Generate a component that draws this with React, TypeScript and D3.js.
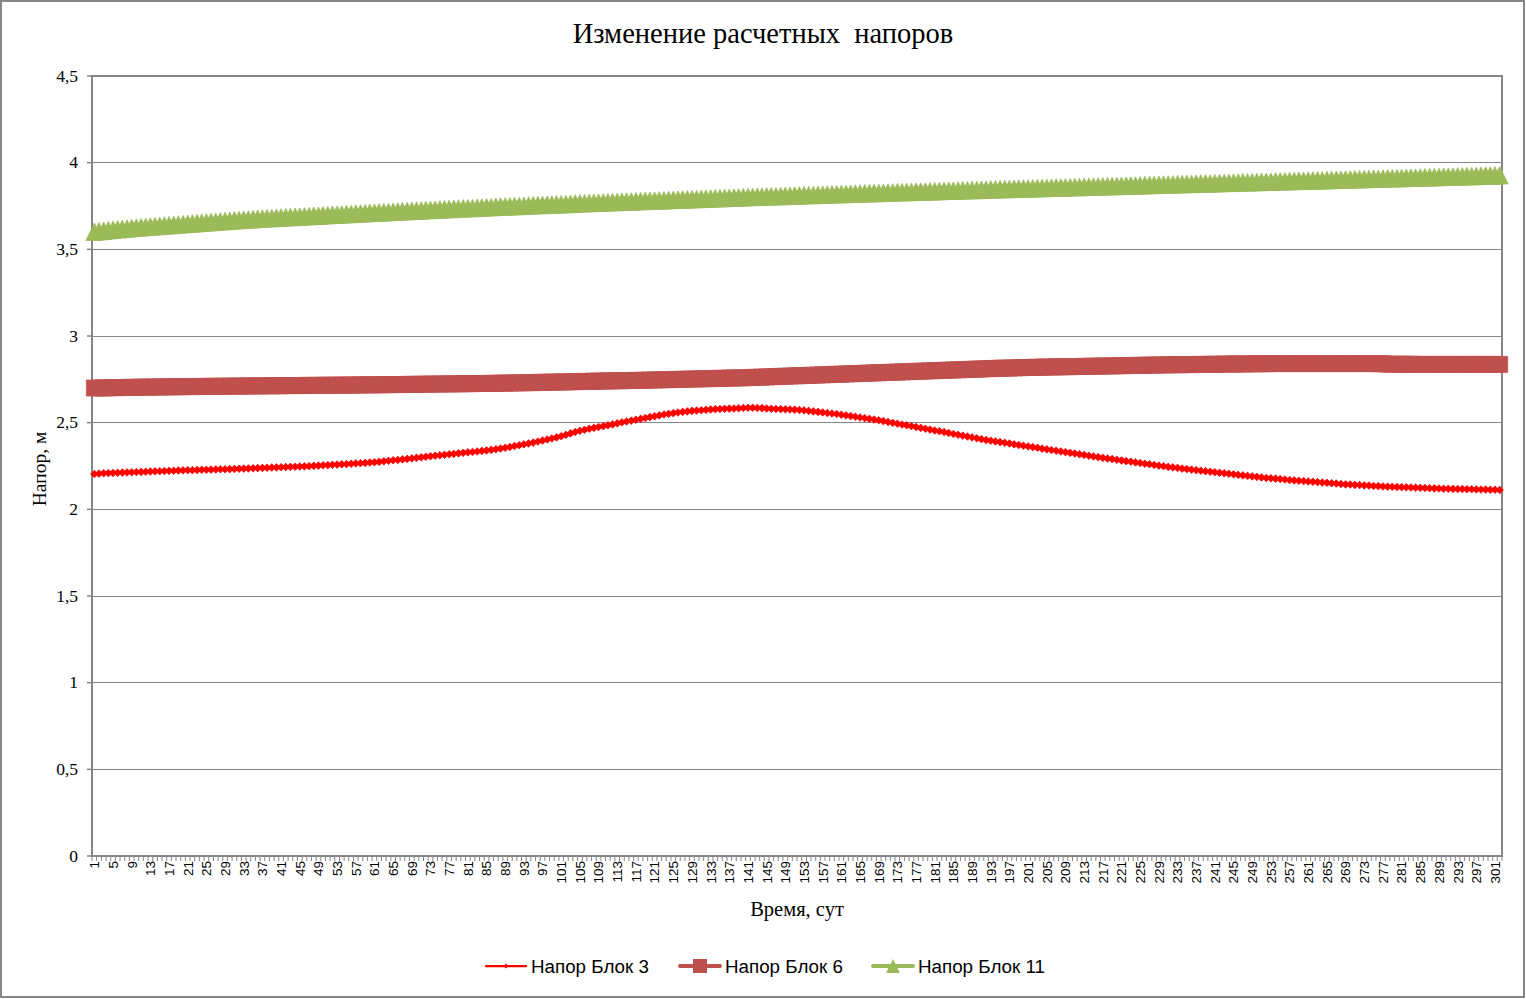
import { useRef, useEffect } from 'react'
import * as d3 from 'd3'

// day numbers on the category axis
const days = d3.range(1, 303)

// Напор Блок 3, м
const block3 = [
  2.204, 2.206, 2.208, 2.209, 2.21, 2.211, 2.212, 2.213, 2.214, 2.215,
  2.216, 2.217, 2.218, 2.219, 2.22, 2.221, 2.222, 2.223, 2.224, 2.225,
  2.226, 2.226, 2.227, 2.228, 2.228, 2.229, 2.23, 2.231, 2.231, 2.232,
  2.233, 2.234, 2.235, 2.236, 2.237, 2.238, 2.239, 2.24, 2.241, 2.242,
  2.243, 2.244, 2.245, 2.246, 2.247, 2.248, 2.249, 2.251, 2.252, 2.254,
  2.255, 2.257, 2.258, 2.26, 2.261, 2.263, 2.265, 2.266, 2.268, 2.27,
  2.272, 2.274, 2.277, 2.28, 2.283, 2.285, 2.288, 2.291, 2.294, 2.297,
  2.3, 2.303, 2.306, 2.309, 2.312, 2.315, 2.318, 2.32, 2.323, 2.326,
  2.329, 2.331, 2.334, 2.337, 2.34, 2.343, 2.347, 2.351, 2.355, 2.36,
  2.365, 2.37, 2.375, 2.38, 2.385, 2.391, 2.397, 2.403, 2.409, 2.415,
  2.422, 2.43, 2.438, 2.446, 2.453, 2.459, 2.465, 2.47, 2.475, 2.48,
  2.485, 2.49, 2.496, 2.502, 2.507, 2.512, 2.517, 2.522, 2.527, 2.532,
  2.537, 2.542, 2.547, 2.551, 2.555, 2.559, 2.562, 2.565, 2.568, 2.57,
  2.572, 2.574, 2.576, 2.578, 2.579, 2.58, 2.581, 2.582, 2.583, 2.585,
  2.586, 2.586, 2.585, 2.584, 2.582, 2.58, 2.579, 2.578, 2.577, 2.576,
  2.575, 2.573, 2.571, 2.568, 2.565, 2.562, 2.559, 2.556, 2.553, 2.55,
  2.546, 2.542, 2.538, 2.534, 2.53, 2.526, 2.522, 2.518, 2.514, 2.509,
  2.504, 2.499, 2.494, 2.489, 2.485, 2.48, 2.475, 2.47, 2.465, 2.46,
  2.455, 2.451, 2.446, 2.44, 2.435, 2.43, 2.425, 2.42, 2.415, 2.41,
  2.405, 2.4, 2.396, 2.392, 2.388, 2.384, 2.38, 2.375, 2.371, 2.367,
  2.363, 2.359, 2.355, 2.35, 2.346, 2.342, 2.338, 2.334, 2.33, 2.326,
  2.322, 2.318, 2.314, 2.309, 2.305, 2.301, 2.297, 2.293, 2.29, 2.286,
  2.282, 2.278, 2.275, 2.271, 2.267, 2.263, 2.26, 2.256, 2.252, 2.249,
  2.245, 2.242, 2.239, 2.235, 2.232, 2.229, 2.226, 2.223, 2.22, 2.217,
  2.214, 2.211, 2.208, 2.205, 2.202, 2.199, 2.196, 2.193, 2.19, 2.187,
  2.184, 2.181, 2.179, 2.177, 2.175, 2.172, 2.169, 2.167, 2.165, 2.163,
  2.161, 2.159, 2.157, 2.155, 2.153, 2.151, 2.149, 2.146, 2.144, 2.143,
  2.141, 2.14, 2.138, 2.137, 2.135, 2.134, 2.132, 2.131, 2.13, 2.129,
  2.128, 2.127, 2.126, 2.125, 2.124, 2.123, 2.122, 2.121, 2.12, 2.119,
  2.119, 2.118, 2.117, 2.117, 2.116, 2.116, 2.115, 2.114, 2.114, 2.113,
  2.113, 2.112,
]

// Напор Блок 6, м
const block6 = [
  2.7, 2.7, 2.701, 2.701, 2.702, 2.702, 2.703, 2.703, 2.704, 2.704,
  2.705, 2.705, 2.705, 2.706, 2.706, 2.706, 2.707, 2.707, 2.707, 2.708,
  2.708, 2.708, 2.709, 2.709, 2.709, 2.71, 2.71, 2.71, 2.71, 2.711,
  2.711, 2.711, 2.711, 2.712, 2.712, 2.712, 2.712, 2.713, 2.713, 2.713,
  2.713, 2.714, 2.714, 2.714, 2.714, 2.715, 2.715, 2.715, 2.715, 2.716,
  2.716, 2.716, 2.716, 2.717, 2.717, 2.717, 2.717, 2.718, 2.718, 2.718,
  2.718, 2.719, 2.719, 2.719, 2.72, 2.72, 2.72, 2.721, 2.721, 2.721,
  2.722, 2.722, 2.722, 2.723, 2.723, 2.723, 2.724, 2.724, 2.724, 2.725,
  2.725, 2.725, 2.726, 2.726, 2.726, 2.727, 2.727, 2.728, 2.728, 2.729,
  2.729, 2.73, 2.73, 2.731, 2.731, 2.732, 2.733, 2.733, 2.734, 2.734,
  2.735, 2.735, 2.736, 2.737, 2.737, 2.738, 2.738, 2.739, 2.74, 2.74,
  2.741, 2.741, 2.742, 2.742, 2.743, 2.743, 2.744, 2.744, 2.745, 2.746,
  2.746, 2.747, 2.748, 2.748, 2.749, 2.75, 2.75, 2.751, 2.752, 2.752,
  2.753, 2.754, 2.754, 2.755, 2.756, 2.756, 2.757, 2.758, 2.758, 2.759,
  2.76, 2.761, 2.762, 2.763, 2.764, 2.765, 2.766, 2.767, 2.768, 2.769,
  2.77, 2.771, 2.772, 2.773, 2.774, 2.775, 2.776, 2.777, 2.778, 2.779,
  2.78, 2.781, 2.782, 2.783, 2.784, 2.785, 2.786, 2.787, 2.788, 2.789,
  2.79, 2.791, 2.792, 2.793, 2.794, 2.795, 2.796, 2.797, 2.798, 2.799,
  2.8, 2.801, 2.802, 2.803, 2.804, 2.805, 2.806, 2.807, 2.808, 2.809,
  2.81, 2.811, 2.812, 2.813, 2.814, 2.815, 2.815, 2.816, 2.817, 2.818,
  2.818, 2.819, 2.82, 2.82, 2.821, 2.821, 2.822, 2.822, 2.823, 2.823,
  2.824, 2.824, 2.825, 2.825, 2.826, 2.826, 2.827, 2.827, 2.828, 2.828,
  2.829, 2.829, 2.83, 2.83, 2.831, 2.831, 2.832, 2.832, 2.833, 2.833,
  2.834, 2.834, 2.834, 2.835, 2.835, 2.835, 2.836, 2.836, 2.836, 2.837,
  2.837, 2.837, 2.838, 2.838, 2.838, 2.839, 2.839, 2.839, 2.84, 2.84,
  2.84, 2.84, 2.841, 2.841, 2.841, 2.841, 2.841, 2.841, 2.841, 2.841,
  2.841, 2.841, 2.841, 2.841, 2.841, 2.841, 2.841, 2.841, 2.841, 2.841,
  2.841, 2.841, 2.841, 2.841, 2.841, 2.84, 2.84, 2.838, 2.837, 2.837,
  2.837, 2.837, 2.837, 2.836, 2.836, 2.836, 2.836, 2.836, 2.836, 2.836,
  2.836, 2.836, 2.836, 2.836, 2.836, 2.836, 2.836, 2.836, 2.836, 2.836,
  2.836, 2.836,
]

// Напор Блок 11, м
const block11 = [
  3.6, 3.603, 3.606, 3.609, 3.612, 3.614, 3.617, 3.619, 3.622, 3.624,
  3.626, 3.628, 3.63, 3.632, 3.634, 3.636, 3.638, 3.64, 3.642, 3.644,
  3.646, 3.648, 3.65, 3.652, 3.654, 3.656, 3.658, 3.66, 3.662, 3.664,
  3.666, 3.668, 3.67, 3.671, 3.673, 3.675, 3.676, 3.678, 3.679, 3.681,
  3.682, 3.684, 3.685, 3.686, 3.687, 3.689, 3.69, 3.692, 3.693, 3.695,
  3.696, 3.698, 3.699, 3.7, 3.702, 3.703, 3.705, 3.706, 3.707, 3.709,
  3.71, 3.711, 3.713, 3.714, 3.715, 3.717, 3.718, 3.719, 3.721, 3.722,
  3.723, 3.725, 3.726, 3.727, 3.729, 3.73, 3.731, 3.732, 3.734, 3.735,
  3.736, 3.737, 3.739, 3.74, 3.741, 3.742, 3.744, 3.745, 3.746, 3.747,
  3.748, 3.749, 3.75, 3.752, 3.753, 3.754, 3.755, 3.756, 3.757, 3.758,
  3.759, 3.76, 3.761, 3.763, 3.764, 3.765, 3.766, 3.767, 3.768, 3.769,
  3.77, 3.771, 3.772, 3.773, 3.774, 3.775, 3.776, 3.777, 3.778, 3.779,
  3.78, 3.781, 3.782, 3.783, 3.784, 3.785, 3.786, 3.787, 3.788, 3.789,
  3.79, 3.791, 3.792, 3.793, 3.794, 3.795, 3.796, 3.797, 3.798, 3.799,
  3.8, 3.801, 3.802, 3.803, 3.804, 3.805, 3.805, 3.806, 3.807, 3.808,
  3.809, 3.81, 3.811, 3.812, 3.812, 3.813, 3.814, 3.815, 3.816, 3.817,
  3.818, 3.818, 3.819, 3.82, 3.821, 3.822, 3.823, 3.823, 3.824, 3.825,
  3.826, 3.827, 3.828, 3.828, 3.829, 3.83, 3.831, 3.832, 3.832, 3.833,
  3.834, 3.835, 3.836, 3.837, 3.837, 3.838, 3.839, 3.84, 3.841, 3.841,
  3.842, 3.843, 3.844, 3.845, 3.846, 3.846, 3.847, 3.848, 3.849, 3.849,
  3.85, 3.851, 3.852, 3.852, 3.853, 3.854, 3.855, 3.855, 3.856, 3.857,
  3.858, 3.858, 3.859, 3.86, 3.861, 3.861, 3.862, 3.863, 3.864, 3.864,
  3.865, 3.866, 3.867, 3.867, 3.868, 3.869, 3.87, 3.87, 3.871, 3.872,
  3.873, 3.873, 3.874, 3.875, 3.876, 3.876, 3.877, 3.878, 3.879, 3.879,
  3.88, 3.881, 3.882, 3.882, 3.883, 3.884, 3.885, 3.885, 3.886, 3.887,
  3.888, 3.888, 3.889, 3.89, 3.891, 3.891, 3.892, 3.893, 3.894, 3.894,
  3.895, 3.896, 3.897, 3.897, 3.898, 3.899, 3.9, 3.9, 3.901, 3.902,
  3.903, 3.903, 3.904, 3.905, 3.906, 3.906, 3.907, 3.908, 3.909, 3.909,
  3.91, 3.911, 3.912, 3.912, 3.913, 3.914, 3.915, 3.915, 3.916, 3.917,
  3.918, 3.918, 3.919, 3.92, 3.921, 3.921, 3.922, 3.923, 3.924, 3.924,
  3.925, 3.926,
]

const yTicks = [0, 0.5, 1, 1.5, 2, 2.5, 3, 3.5, 4, 4.5]
const seriesNames = ['Напор Блок 3', 'Напор Блок 6', 'Напор Блок 11']
const seriesColors = ['#FF0000', '#C0504D', '#9BBB59']

const SERIF = "'Liberation Serif', 'Times New Roman', serif"
const SANS = "'Liberation Sans', Arial, sans-serif"
const GRID = '#868686'

// marker shapes, drawn around (0,0)
const markerPath = [
  'M0,-3.8L3.8,0L0,3.8L-3.8,0Z',
  'M-8,-8H8V8H-8Z',
  'M0,-9L8.5,8.5L-8.5,8.5Z',
]
const legendMarkerPath = [
  'M0,-2.5L2.5,0L0,2.5L-2.5,0Z',
  'M-7,-7H7V7H-7Z',
  'M0,-7L7,7L-7,7Z',
]
const lineWidths = [2.25, 3.5, 3.5]

export default function App() {
  const svgRef = useRef<SVGSVGElement>(null)

  useEffect(() => {
    if (!svgRef.current) return
    const svg = d3.select(svgRef.current)
    svg.selectAll('*').remove()

    const width = 1526
    const height = 999
    const plot = { left: 92, right: 1502, top: 76, bottom: 856 }

    svg.append('rect').attr('width', width).attr('height', height).attr('fill', '#fff')
    svg
      .append('rect')
      .attr('x', 1)
      .attr('y', 1)
      .attr('width', 1523)
      .attr('height', 996)
      .attr('fill', 'none')
      .attr('stroke', GRID)
      .attr('stroke-width', 2)

    // Scales
    const x = d3
      .scaleBand<number>()
      .domain(days)
      .range([plot.left, plot.right])
      .padding(0)
    const cx = (d: number) => (x(d) ?? 0) + x.bandwidth() / 2

    const y = d3.scaleLinear().domain([0, 4.5]).range([plot.bottom, plot.top])
    const fmt = d3.formatLocale({ decimal: ',', thousands: ' ', grouping: [3], currency: ['', ''] }).format('~g')

    // Gridlines
    svg
      .append('g')
      .selectAll('line')
      .data(yTicks)
      .join('line')
      .attr('x1', plot.left)
      .attr('x2', plot.right)
      .attr('y1', (d) => y(d))
      .attr('y2', (d) => y(d))
      .attr('stroke', GRID)
      .attr('stroke-width', 1)
      .attr('shape-rendering', 'crispEdges')

    // Plot border
    svg
      .append('rect')
      .attr('x', plot.left)
      .attr('y', plot.top)
      .attr('width', plot.right - plot.left)
      .attr('height', plot.bottom - plot.top)
      .attr('fill', 'none')
      .attr('stroke', GRID)
      .attr('stroke-width', 2)

    // Y axis ticks + labels
    const yAxis = svg.append('g')
    yAxis
      .selectAll('line')
      .data(yTicks)
      .join('line')
      .attr('x1', plot.left - 5)
      .attr('x2', plot.left)
      .attr('y1', (d) => y(d))
      .attr('y2', (d) => y(d))
      .attr('stroke', GRID)
      .attr('stroke-width', 1.5)
    yAxis
      .selectAll('text')
      .data(yTicks)
      .join('text')
      .attr('x', plot.left - 14)
      .attr('y', (d) => y(d))
      .attr('dy', '0.33em')
      .attr('text-anchor', 'end')
      .attr('font-family', SERIF)
      .attr('font-size', 17.5)
      .attr('fill', '#000')
      .text((d) => fmt(d))

    // X axis: a tick at every category boundary, a label every 4th day
    const xAxis = svg.append('g')
    xAxis
      .selectAll('line')
      .data([...days, days.length + 1])
      .join('line')
      .attr('x1', (d) => plot.left + (d - 1) * x.bandwidth())
      .attr('x2', (d) => plot.left + (d - 1) * x.bandwidth())
      .attr('y1', plot.bottom)
      .attr('y2', plot.bottom + 5)
      .attr('stroke', GRID)
      .attr('stroke-width', 1)
    xAxis
      .selectAll('text')
      .data(days.filter((d) => (d - 1) % 4 === 0))
      .join('text')
      .attr('transform', (d) => `translate(${cx(d)},${plot.bottom + 5}) rotate(-90)`)
      .attr('dy', '0.36em')
      .attr('text-anchor', 'end')
      .attr('font-family', SANS)
      .attr('font-size', 13.5)
      .attr('fill', '#000')
      .text((d) => d)

    // Series
    const allSeries = [block3, block6, block11]
    allSeries.forEach((values, i) => {
      const line = d3
        .line<number>()
        .x((_, j) => cx(days[j]))
        .y((v) => y(v))
      const g = svg.append('g')
      g.append('path')
        .attr('d', line(values))
        .attr('fill', 'none')
        .attr('stroke', seriesColors[i])
        .attr('stroke-width', lineWidths[i])
        .attr('stroke-linejoin', 'round')
      g.selectAll('path.m')
        .data(values)
        .join('path')
        .attr('class', 'm')
        .attr('d', markerPath[i])
        .attr('transform', (v, j) => `translate(${cx(days[j])},${y(v)})`)
        .attr('fill', seriesColors[i])
        .attr('stroke', seriesColors[i])
        .attr('stroke-width', 0.75)
    })

    // Title
    svg
      .append('text')
      .attr('x', 763)
      .attr('y', 43)
      .attr('text-anchor', 'middle')
      .attr('font-family', SERIF)
      .attr('font-size', 28.5)
      .attr('fill', '#000')
      .style('white-space', 'pre')
      .text('Изменение расчетных  напоров')

    // Axis titles
    svg
      .append('text')
      .attr('x', (plot.left + plot.right) / 2)
      .attr('y', 916)
      .attr('text-anchor', 'middle')
      .attr('font-family', SERIF)
      .attr('font-size', 20.5)
      .attr('fill', '#000')
      .text('Время, сут')
    svg
      .append('text')
      .attr('transform', `translate(46,469) rotate(-90)`)
      .attr('text-anchor', 'middle')
      .attr('font-family', SERIF)
      .attr('font-size', 19.5)
      .attr('fill', '#000')
      .text('Напор, м')

    // Legend
    const legendX = [486, 680, 873]
    const legendY = 966
    seriesNames.forEach((name, i) => {
      const g = svg.append('g').attr('transform', `translate(${legendX[i]},${legendY})`)
      g.append('line')
        .attr('x1', 0)
        .attr('x2', 40)
        .attr('stroke', seriesColors[i])
        .attr('stroke-width', i === 0 ? 2.25 : 4)
        .attr('stroke-linecap', 'round')
      g.append('path')
        .attr('d', legendMarkerPath[i])
        .attr('transform', 'translate(20,0)')
        .attr('fill', seriesColors[i])
      g.append('text')
        .attr('x', 45)
        .attr('y', 6.5)
        .attr('font-family', SANS)
        .attr('font-size', 18.8)
        .attr('fill', '#000')
        .text(name)
    })
  }, [])

  return (
    <svg
      ref={svgRef}
      width={1526}
      height={999}
      style={{ position: 'absolute', left: 0, top: 0, display: 'block' }}
    />
  )
}
